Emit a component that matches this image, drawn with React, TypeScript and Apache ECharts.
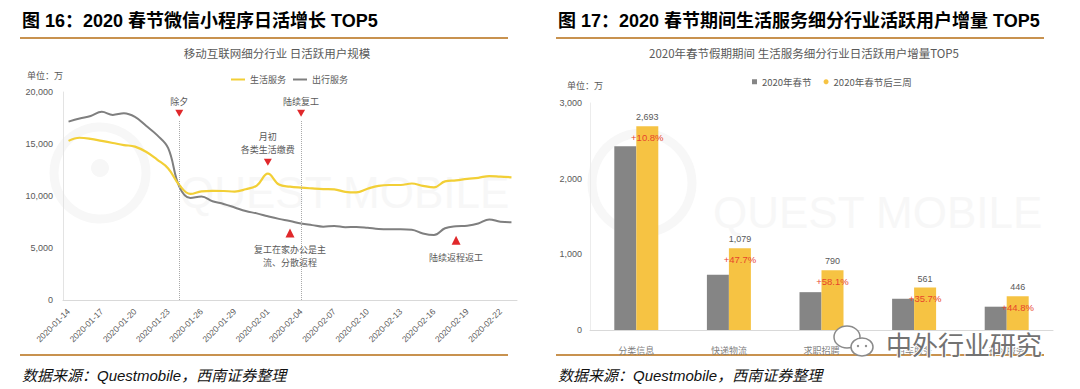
import React, { useEffect, useRef } from 'react';
import * as echarts from 'echarts';

// ---- Left chart data (unit: 万) ----
const dates = [
  '2020-01-14', '2020-01-15', '2020-01-16', '2020-01-17', '2020-01-18', '2020-01-19', '2020-01-20',
  '2020-01-21', '2020-01-22', '2020-01-23', '2020-01-24', '2020-01-25', '2020-01-26', '2020-01-27',
  '2020-01-28', '2020-01-29', '2020-01-30', '2020-01-31', '2020-02-01', '2020-02-02', '2020-02-03',
  '2020-02-04', '2020-02-05', '2020-02-06', '2020-02-07', '2020-02-08', '2020-02-09', '2020-02-10',
  '2020-02-11', '2020-02-12', '2020-02-13', '2020-02-14', '2020-02-15', '2020-02-16', '2020-02-17',
  '2020-02-18', '2020-02-19', '2020-02-20', '2020-02-21', '2020-02-22', '2020-02-23',
];
const lifeService = [
  15300, 15600, 15500, 15300, 15100, 14900, 14750, 14250, 13500, 12650, 11060, 10200, 10450, 10500,
  10480, 10430, 10650, 11000, 12150, 11100, 10900, 10800, 10730, 10670, 10640, 10400, 10350, 10700,
  10980, 11060, 11060, 11200, 10980, 10830, 11400, 11500, 11650, 11750, 11920, 11860, 11800,
];
const travelService = [
  17150, 17450, 17700, 18100, 17800, 17950, 17600, 16750, 15850, 14600, 10900, 9800, 9950, 9500,
  9230, 8900, 8550, 8330, 8050, 7800, 7600, 7350, 7200, 7050, 7120, 7000, 7030, 6950,
  6830, 6800, 6800, 6750, 6400, 6250, 6900, 7100, 7150, 7350, 7750, 7520, 7470,
];
const leftSeriesNames = ['生活服务', '出行服务'];

// ---- Right chart data (unit: 万) ----
const barCategories = ['分类信息', '快递物流', '求职招聘', '用车服务', '社区服务'];
const springFestival = [2430, 731, 500, 413, 308];
const afterThreeWeeks = [2693, 1079, 790, 561, 446];
const growthLabels = ['+10.8%', '+47.7%', '+58.1%', '+35.7%', '+44.8%'];
const rightSeriesNames = ['2020年春节', '2020年春节后三周'];

const FONT = "'Liberation Sans', 'Noto Sans CJK SC', sans-serif";
const CJK = "'Noto Sans CJK SC', 'Liberation Sans', sans-serif";
const GRAY_TXT = '#595959';
const RED = '#e0282b';
const ORANGE_LINE = '#c8924f';
const WM = '#f7f7f7';

const fmt = (v: number) => v.toLocaleString('en-US');

function txt(text: string, x: number, y: number, extra: any = {}) {
  const align = extra.align || 'left';
  return {
    type: 'text',
    silent: true,
    z: extra.z ?? 10,
    style: {
      text,
      x,
      y,
      fill: extra.fill || GRAY_TXT,
      fontSize: extra.fontSize || 9,
      fontWeight: extra.fontWeight || 'normal',
      fontStyle: extra.fontStyle || 'normal',
      fontFamily: extra.fontFamily || FONT,
      align,
      textAlign: align,
      verticalAlign: 'middle',
      textVerticalAlign: 'middle',
      stroke: extra.stroke,
      lineWidth: extra.lineWidth,
    },
  };
}

function textPoint(date: string, value: number, text: string, lineHeight = 12) {
  return {
    coord: [date, value],
    symbol: 'circle',
    symbolSize: 1,
    itemStyle: { color: 'rgba(0,0,0,0)' },
    label: {
      show: true,
      position: 'inside',
      formatter: text,
      color: GRAY_TXT,
      fontSize: 9,
      fontFamily: CJK,
      lineHeight,
      align: 'center',
    },
  };
}

function triPoint(date: string, value: number, down: boolean) {
  return {
    coord: [date, value],
    symbol: 'triangle',
    symbolRotate: down ? 180 : 0,
    symbolSize: down ? [8, 7] : [9, 9],
    itemStyle: { color: RED },
    label: { show: false },
  };
}

export default function App() {
  const ref = useRef<HTMLDivElement>(null);
  useEffect(() => {
    document.body.style.margin = '0';
    const chart = echarts.init(ref.current!, null, { renderer: 'svg' });

    const option: any = {
      animation: false,
      backgroundColor: '#ffffff',
      textStyle: { fontFamily: FONT },
      graphic: [
        // faint watermarks
        { type: 'circle', silent: true, z: 0, shape: { cx: 100, cy: 173, r: 46 }, style: { fill: 'none', stroke: WM, lineWidth: 9 } },
        { type: 'circle', silent: true, z: 0, shape: { cx: 100, cy: 168, r: 9 }, style: { fill: WM } },
        txt('QUEST MOBILE', 180, 192, { fontSize: 44, fill: WM, z: 0 }),
        { type: 'circle', silent: true, z: 0, shape: { cx: 642, cy: 183, r: 50 }, style: { fill: 'none', stroke: WM, lineWidth: 9 } },
        txt('QUEST MOBILE', 713, 212, { fontSize: 44, fill: WM, z: 0 }),
        // titles
        txt('图 16：2020 春节微信小程序日活增长 TOP5', 22, 21, { fontSize: 18, fontWeight: 'bold', fill: '#000000' }),
        txt('图 17：2020 春节期间生活服务细分行业活跃用户增量 TOP5', 558, 21, { fontSize: 18, fontWeight: 'bold', fill: '#000000' }),
        { type: 'rect', silent: true, shape: { x: 20, y: 37, width: 488, height: 2 }, style: { fill: ORANGE_LINE } },
        { type: 'rect', silent: true, shape: { x: 556, y: 37, width: 488, height: 2 }, style: { fill: ORANGE_LINE } },
        { type: 'rect', silent: true, shape: { x: 20, y: 354, width: 488, height: 2 }, style: { fill: ORANGE_LINE } },
        { type: 'rect', silent: true, shape: { x: 556, y: 354, width: 488, height: 2 }, style: { fill: ORANGE_LINE } },
        // inner chart titles
        txt('移动互联网细分行业 日活跃用户规模', 277, 53, { fontSize: 11.5, align: 'center', fontFamily: CJK }),
        txt('2020年春节假期期间 生活服务细分行业日活跃用户增量TOP5', 804, 53, { fontSize: 11.5, align: 'center', fontFamily: CJK }),
        txt('单位：万', 27, 75, { fontFamily: CJK }),
        txt('单位：万', 567, 85, { fontFamily: CJK }),
        // sources
        txt('数据来源：Questmobile，西南证券整理', 22, 375, { fontSize: 15, fontStyle: 'italic', fill: '#111111' }),
        txt('数据来源：Questmobile，西南证券整理', 558, 375, { fontSize: 15, fontStyle: 'italic', fill: '#111111' }),
        // wechat watermark
        { type: 'ellipse', silent: true, z: 20, shape: { cx: 847, cy: 337, rx: 13, ry: 11 }, style: { fill: '#ffffff', stroke: '#8a8a8a', lineWidth: 1.5 } },
        { type: 'ellipse', silent: true, z: 21, shape: { cx: 862, cy: 347, rx: 11, ry: 9 }, style: { fill: '#ffffff', stroke: '#8a8a8a', lineWidth: 1.5 } },
        { type: 'circle', silent: true, z: 22, shape: { cx: 858, cy: 346, r: 1.2 }, style: { fill: '#8a8a8a' } },
        { type: 'circle', silent: true, z: 22, shape: { cx: 866, cy: 346, r: 1.2 }, style: { fill: '#8a8a8a' } },
        txt('中外行业研究', 886, 343, { fontSize: 26, fill: '#727272', stroke: '#ffffff', lineWidth: 2, fontFamily: CJK, z: 23 }),
      ],
      legend: [
        {
          data: leftSeriesNames,
          left: 226,
          top: 70,
          icon: 'rect',
          itemWidth: 14,
          itemHeight: 2,
          itemGap: 7,
          textStyle: { fontSize: 9, color: GRAY_TXT, fontFamily: CJK },
        },
        {
          data: [
            { name: rightSeriesNames[0], icon: 'rect' },
            { name: rightSeriesNames[1], icon: 'circle' },
          ],
          left: 747,
          top: 72,
          itemWidth: 5,
          itemHeight: 5,
          itemGap: 12,
          textStyle: { fontSize: 9.5, color: GRAY_TXT, fontFamily: CJK },
        },
      ],
      grid: [
        { left: 63, right: 563, top: 92, bottom: 89 },
        { left: 590, right: 27, top: 103, bottom: 59 },
      ],
      xAxis: [
        {
          type: 'category',
          gridIndex: 0,
          data: dates,
          boundaryGap: true,
          axisLine: { lineStyle: { color: '#d9d9d9' } },
          axisTick: { show: false },
          axisLabel: { rotate: 45, interval: 2, fontSize: 8.5, color: GRAY_TXT, margin: 10 },
        },
        {
          type: 'category',
          gridIndex: 1,
          data: barCategories,
          axisLine: { lineStyle: { color: '#d9d9d9' } },
          axisTick: { show: false },
          axisLabel: { fontSize: 9, color: '#7f7f7f', margin: 16, fontFamily: CJK },
        },
      ],
      yAxis: [
        {
          type: 'value',
          gridIndex: 0,
          min: 0,
          max: 20000,
          interval: 5000,
          axisLine: { show: true, lineStyle: { color: '#e3e3e3' } },
          axisTick: { show: false },
          splitLine: { show: false },
          axisLabel: { fontSize: 9, color: GRAY_TXT, margin: 10, formatter: (v: number) => fmt(v) },
        },
        {
          type: 'value',
          gridIndex: 1,
          min: 0,
          max: 3000,
          interval: 1000,
          axisLine: { show: true, lineStyle: { color: '#ececec' } },
          axisTick: { show: false },
          splitLine: { show: false },
          axisLabel: { fontSize: 9, color: GRAY_TXT, margin: 8, formatter: (v: number) => fmt(v) },
        },
      ],
      series: [
        {
          name: leftSeriesNames[0],
          type: 'line',
          xAxisIndex: 0,
          yAxisIndex: 0,
          data: lifeService,
          smooth: 0.4,
          showSymbol: false,
          color: '#f2cf36',
          lineStyle: { color: '#f2cf36', width: 2.2 },
          z: 3,
          markLine: {
            silent: true,
            symbol: ['none', 'none'],
            label: { show: false },
            lineStyle: { type: 'dotted', color: '#a9a9a9', width: 1 },
            data: [
              [{ coord: ['2020-01-24', 0] }, { coord: ['2020-01-24', 17300] }],
              [{ coord: ['2020-02-04', 0] }, { coord: ['2020-02-04', 17300] }],
            ],
          },
          markPoint: {
            silent: true,
            data: [
              textPoint('2020-01-24', 19100, '除夕'),
              triPoint('2020-01-24', 17950, true),
              textPoint('2020-02-04', 19050, '陆续复工'),
              triPoint('2020-02-04', 17950, true),
              textPoint('2020-02-01', 15100, '月初\n各类生活缴费', 13),
              triPoint('2020-02-01', 13250, true),
            ],
          },
        },
        {
          name: leftSeriesNames[1],
          type: 'line',
          xAxisIndex: 0,
          yAxisIndex: 0,
          data: travelService,
          smooth: 0.4,
          showSymbol: false,
          color: '#7f7f7f',
          lineStyle: { color: '#7f7f7f', width: 2 },
          z: 2,
          markPoint: {
            silent: true,
            data: [
              triPoint('2020-02-03', 6450, false),
              textPoint('2020-02-03', 4250, '复工在家办公是主\n流、分散返程', 13),
              triPoint('2020-02-18', 5750, false),
              textPoint('2020-02-18', 4050, '陆续返程返工'),
            ],
          },
        },
        {
          name: rightSeriesNames[0],
          type: 'bar',
          xAxisIndex: 1,
          yAxisIndex: 1,
          data: springFestival,
          barWidth: 22,
          barGap: '0%',
          color: '#858585',
          itemStyle: { color: '#858585' },
        },
        {
          name: rightSeriesNames[1],
          type: 'bar',
          xAxisIndex: 1,
          yAxisIndex: 1,
          data: afterThreeWeeks,
          barWidth: 22,
          barGap: '0%',
          color: '#f6c343',
          itemStyle: { color: '#f6c343' },
          label: {
            show: true,
            position: 'top',
            distance: -24,
            formatter: (p: any) => `{v|${fmt(p.value)}}\n{p|${growthLabels[p.dataIndex]}}`,
            rich: {
              v: { fontSize: 9, color: GRAY_TXT, lineHeight: 14, align: 'center' },
              p: { fontSize: 9.5, color: '#e8452c', lineHeight: 26, align: 'center' },
            },
          },
        },
      ],
    };

    chart.setOption(option);
    return () => chart.dispose();
  }, []);

  return <div ref={ref} style={{ width: 1080, height: 389, background: '#ffffff' }} />;
}
